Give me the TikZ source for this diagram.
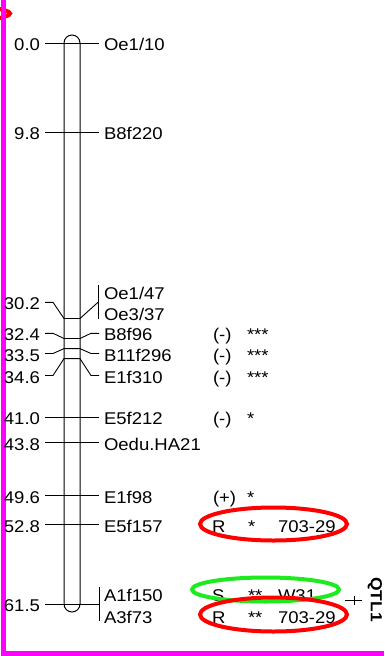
\documentclass[tikz,border=0pt]{standalone}
\usepackage{fontspec}
\setmainfont{Liberation Sans}[FakeStretch=1.09]
\definecolor{mag}{RGB}{255,0,255}
\definecolor{qred}{RGB}{255,0,0}
\definecolor{qgreen}{RGB}{30,235,30}
\begin{document}
\begin{tikzpicture}[x=1pt,y=1pt,
  every node/.style={inner sep=0pt,outer sep=0pt,font=\fontsize{17}{20}\selectfont},
  lab/.style={anchor=base west},
  cmlab/.style={anchor=base east},
  chrom/.style={line width=1pt,black},
  tick/.style={line width=0.9pt,black},
  ring/.style={line width=4pt}]
\useasboundingbox (0,0) rectangle (384,-656);
% partial red ring at top left
\draw[ring,qred] (-50,-13.5) ellipse [x radius=60, y radius=8];
% magenta frame
\draw[line width=4.5pt,mag,line join=miter] (3.5,0) -- (3.5,-653.7) -- (384,-653.7);
% chromosome
\draw[chrom] (64,-43) -- (64,-604) arc[start angle=180,end angle=360,radius=8] -- (80,-43) arc[start angle=0,end angle=180,radius=8];
% straight ticks
\foreach \y/\n in {43/a,132.4/b,417/f,442.6/g,495.5/h,524.7/i,604/j}{
  \coordinate (L\n) at (45,-\y); \coordinate (R\n) at (99,-\y);
  \draw[tick] (L\n) -- (R\n);
}
% bent ticks
\foreach \t/\l/\n in {318.5/302.3/c,338.5/333.3/d,348.6/353.5/e,358.6/375.5/k}{
  \coordinate (L\n) at (45,-\l); \coordinate (M\n) at (53,-\l);
  \coordinate (Ci\n) at (64,-\t); \coordinate (Co\n) at (80,-\t);
  \draw[tick] (L\n) -- (M\n) -- (Ci\n) -- (Co\n);
}
\coordinate (Nd) at (91,-333.3); \coordinate (Rd) at (99,-333.3);
\coordinate (Ne) at (91,-353.5); \coordinate (Re) at (99,-353.5);
\coordinate (Nk) at (91,-375.5); \coordinate (Rk) at (99,-375.5);
\draw[tick] (Cod) -- (Nd) -- (Rd);
\draw[tick] (Coe) -- (Ne) -- (Re);
\draw[tick] (Cok) -- (Nk) -- (Rk);
\coordinate (Rc) at (98,-302.3);
\draw[tick] (Coc) -- (Rc);
% brackets
\coordinate (Bc1) at (98,-285); \coordinate (Bc2) at (98,-319);
\draw[tick] (Bc1) -- (Bc2);
\coordinate (Bj1) at (99,-587); \coordinate (Bj2) at (99,-621);
\draw[tick] (Bj1) -- (Bj2);
% positions
\node[cmlab] (p1) at (40,-50.5) {0.0};
\node[cmlab] (p2) at (40,-139.9) {9.8};
\node[cmlab] (p3) at (40,-309.8) {30.2};
\node[cmlab] (p4) at (40,-340.8) {32.4};
\node[cmlab] (p5) at (40,-361) {33.5};
\node[cmlab] (p6) at (40,-383) {34.6};
\node[cmlab] (p7) at (40,-424.5) {41.0};
\node[cmlab] (p8) at (40,-450.1) {43.8};
\node[cmlab] (p9) at (40,-503) {49.6};
\node[cmlab] (p10) at (40,-532.2) {52.8};
\node[cmlab] (p11) at (40,-611.5) {61.5};
% marker names
\node[lab] (m1) at (104,-50.5) {Oe1/10};
\node[lab] (m2) at (104,-139.9) {B8f220};
\node[lab] (m3) at (104,-299.5) {Oe1/47};
\node[lab] (m4) at (104,-320.5) {Oe3/37};
\node[lab] (m5) at (104,-340.8) {B8f96};
\node[lab] (m6) at (104,-361) {B11f296};
\node[lab] (m7) at (104,-383) {E1f310};
\node[lab] (m8) at (104,-424.5) {E5f212};
\node[lab] (m9) at (104,-450.1) {Oedu.HA21};
\node[lab] (m10) at (104,-503) {E1f98};
\node[lab] (m11) at (104,-532.2) {E5f157};
\node[lab] (m12) at (104,-601.5) {A1f150};
\node[lab] (m13) at (104,-623.5) {A3f73};
% effect columns
\foreach \b/\s/\st [count=\i] in {340.8/(-)/***,361/(-)/***,383/(-)/***,424.5/(-)/*,503/(+)/*}{
  \node[lab] (e\i) at (213,-\b) {\s};
  \node[lab] (s\i) at (247,-\b) {\st};
}
\node[lab] (r1) at (212,-532.2) {R};
\node[lab] (r1s) at (248,-532.2) {*};
\node[lab] (r1p) at (278,-532.2) {703-29};
\node[lab] (r2) at (212,-601.5) {S};
\node[lab] (r2s) at (248,-601.5) {**};
\node[lab] (r2p) at (278,-601.5) {W31};
\node[lab] (r3) at (212,-623.5) {R};
\node[lab] (r3s) at (248,-623.5) {**};
\node[lab] (r3p) at (278,-623.5) {703-29};
% ellipses
\draw[ring,qred] (273.5,-524) ellipse [x radius=73.5, y radius=16.5];
\draw[ring,qgreen] (265.5,-589.5) ellipse [x radius=73.5, y radius=12];
\draw[ring,qred] (273.5,-614.5) ellipse [x radius=73.5, y radius=17];
% QTL
\coordinate (q1) at (345,-600); \coordinate (q2) at (362,-600);
\coordinate (q3) at (354,-595.5); \coordinate (q4) at (354,-604.5);
\draw[tick] (q1) -- (q2);
\draw[tick] (q3) -- (q4);
\node[rotate=-90,font=\fontsize{16}{18}\selectfont\bfseries] (qtl) at (375,-599.5) {QTL1};
\end{tikzpicture}
\end{document}
